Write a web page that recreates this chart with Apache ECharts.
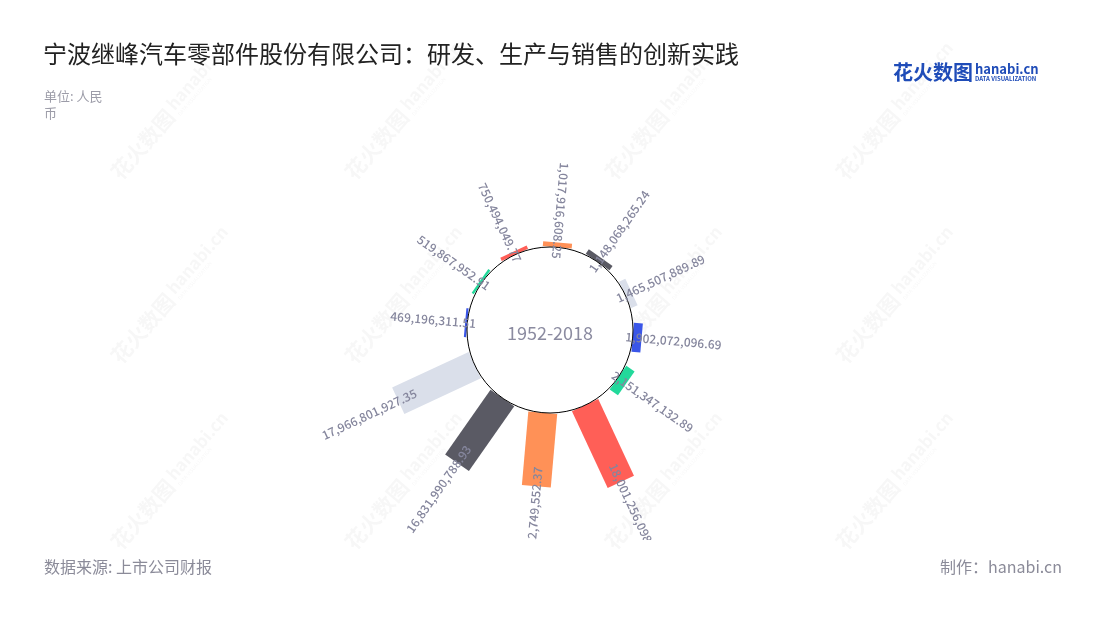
<!DOCTYPE html>
<html>
<head>
<meta charset="utf-8">
<script src="https://cdn.jsdelivr.net/npm/echarts@6/dist/echarts.min.js"></script>
<style>
html,body{margin:0;padding:0;background:#fff;}
#bg{position:absolute;left:0;top:0;width:1100px;height:620px;}
#chart{position:absolute;left:0;top:120px;width:1100px;height:420px;}
</style>
</head>
<body>
<div id="bg"></div>
<div id="chart"></div>
<script>
// ---- data ----
const categories = ['2011','2012','2013','2014','2015','2016','2017','2018','2019','2020','2021','2022'];
const revenue = [469196311.51, 519867952.91, 750494049.77, 1017916608.25, 1148068265.24, 1465507889.89,
                 1902072096.69, 2151347132.89, 18001256098.39, 15712749552.37, 16831990788.93, 17966801927.35];
const centerLabel = '1952-2018';
const titleText = '宁波继峰汽车零部件股份有限公司：研发、生产与销售的创新实践';
const unitText = '单位: 人民\n币';
const sourceText = '数据来源: 上市公司财报';
const makerText = '制作：hanabi.cn';

// ---- styles ----
const FONT = "'Noto Sans CJK SC','Noto Sans',sans-serif";
const palette = ['#3a56e8', '#22d99b', '#ff5f57', '#ff9157', '#5a5a64', '#dadfea'];
const labelColor = '#85869d';

// ---- background (titles, footers, watermark) ----
const bg = echarts.init(document.getElementById('bg'));
const wmCols = [123, 357, 617, 848];
const wmRows = [183, 367, 553];
const wmFill = 'rgba(60,60,70,0.045)';
const wm = [];
wmRows.forEach(y => wmCols.forEach(x => {
  wm.push({
    type: 'group', x: x, y: y, rotation: 49 * Math.PI / 180, silent: true,
    children: [
      {type: 'text', x: 0, y: 0, style: {text: '花火数图', font: 'bold 21px ' + FONT, fill: wmFill, verticalAlign: 'bottom'}},
      {type: 'text', x: 88, y: -6, style: {text: 'hanabi.cn', font: 'bold 17px ' + FONT, fill: wmFill, verticalAlign: 'bottom'}},
      {type: 'text', x: 88, y: 0, style: {text: 'DATA VISUALIZATION', font: '5px ' + FONT, fill: wmFill, verticalAlign: 'bottom'}}
    ]
  });
}));
bg.setOption({
  title: {
    text: titleText, left: 38, top: 37,
    textStyle: {fontFamily: FONT, fontSize: 24, fontWeight: 'normal', color: '#222'}
  },
  graphic: wm.concat([
    {type: 'text', x: 44, y: 88, style: {text: unitText, font: '13px ' + FONT, lineHeight: 17, fill: '#9c9ca8'}},
    {type: 'text', x: 44, y: 567, style: {text: sourceText, font: '16px ' + FONT, fill: '#8b8b99', verticalAlign: 'middle'}},
    {type: 'text', x: 1062, y: 567, style: {text: makerText, font: '16px ' + FONT, fill: '#8b8b99', align: 'right', verticalAlign: 'middle'}},
    {type: 'text', x: 893, y: 72, style: {text: '花火数图', font: 'bold 20px ' + FONT, fill: '#1f4cb8', verticalAlign: 'middle'}},
    {type: 'text', x: 975, y: 69, style: {text: 'hanabi.cn', font: 'bold 13px ' + FONT, fill: '#1f4cb8', verticalAlign: 'middle'}},
    {type: 'text', x: 975, y: 79, style: {text: 'DATA VISUALIZATION', font: 'bold 6px ' + FONT, fill: '#1f4cb8', verticalAlign: 'middle'}}
  ])
});

// ---- polar chart ----
const chart = echarts.init(document.getElementById('chart'));
const fmt = v => v.toLocaleString('en-US', {minimumFractionDigits: 2, maximumFractionDigits: 2});

chart.setOption({
  animation: false,
  polar: {center: ['50%', '50%'], radius: [83, 177]},
  angleAxis: {type: 'category', data: categories, startAngle: 190, show: false},
  radiusAxis: {type: 'value', min: 0, max: 20000000000, show: false},
  series: [{
    type: 'custom',
    coordinateSystem: 'polar',
    data: revenue.map((v, i) => [v, i]),
    encode: {radius: 0, angle: 1},
    renderItem: function (params, api) {
      const i = params.dataIndex;
      const v = api.value(0);
      const cs = params.coordSys;
      const cx = cs.cx, cy = cs.cy;
      const p0 = api.coord([0, i]);
      const p1 = api.coord([v, i]);
      let dx = p0[0] - cx, dy = p0[1] - cy;
      const len = Math.sqrt(dx * dx + dy * dy);
      dx /= len; dy /= len;
      const px = -dy, py = dx;
      const hw = 14.5;
      const rEnd = Math.sqrt((p1[0] - cx) ** 2 + (p1[1] - cy) ** 2);
      let ang = Math.atan2(-dy, dx) * 180 / Math.PI;
      if (ang < 0) ang += 360;
      const inward = ang >= 80 && ang < 270;
      const rot = (inward ? ang - 180 : ang) * Math.PI / 180;
      const lr = rEnd + 32;
      const children = [
        {
          type: 'polygon',
          shape: {points: [
            [p0[0] + px * hw, p0[1] + py * hw],
            [p1[0] + px * hw, p1[1] + py * hw],
            [p1[0] - px * hw, p1[1] - py * hw],
            [p0[0] - px * hw, p0[1] - py * hw]
          ]},
          style: {fill: palette[i % palette.length]},
          z2: 1
        },
        {
          type: 'text',
          x: cx + dx * lr, y: cy + dy * lr, rotation: rot,
          style: {text: fmt(v), font: '500 12px ' + FONT, fill: labelColor, align: 'center', verticalAlign: 'middle'},
          z2: 100
        }
      ];
      if (i === 0) {
        children.push({
          type: 'circle', shape: {cx: cx, cy: cy, r: cs.r0},
          style: {fill: '#fff', stroke: '#000', lineWidth: 1}, z2: 50
        });
        children.push({
          type: 'text', x: cx, y: cy + 3,
          style: {text: centerLabel, font: '18px ' + FONT, fill: '#8b8ba0', align: 'center', verticalAlign: 'middle'},
          z2: 60
        });
      }
      return {type: 'group', children: children};
    }
  }]
});
</script>
</body>
</html>
